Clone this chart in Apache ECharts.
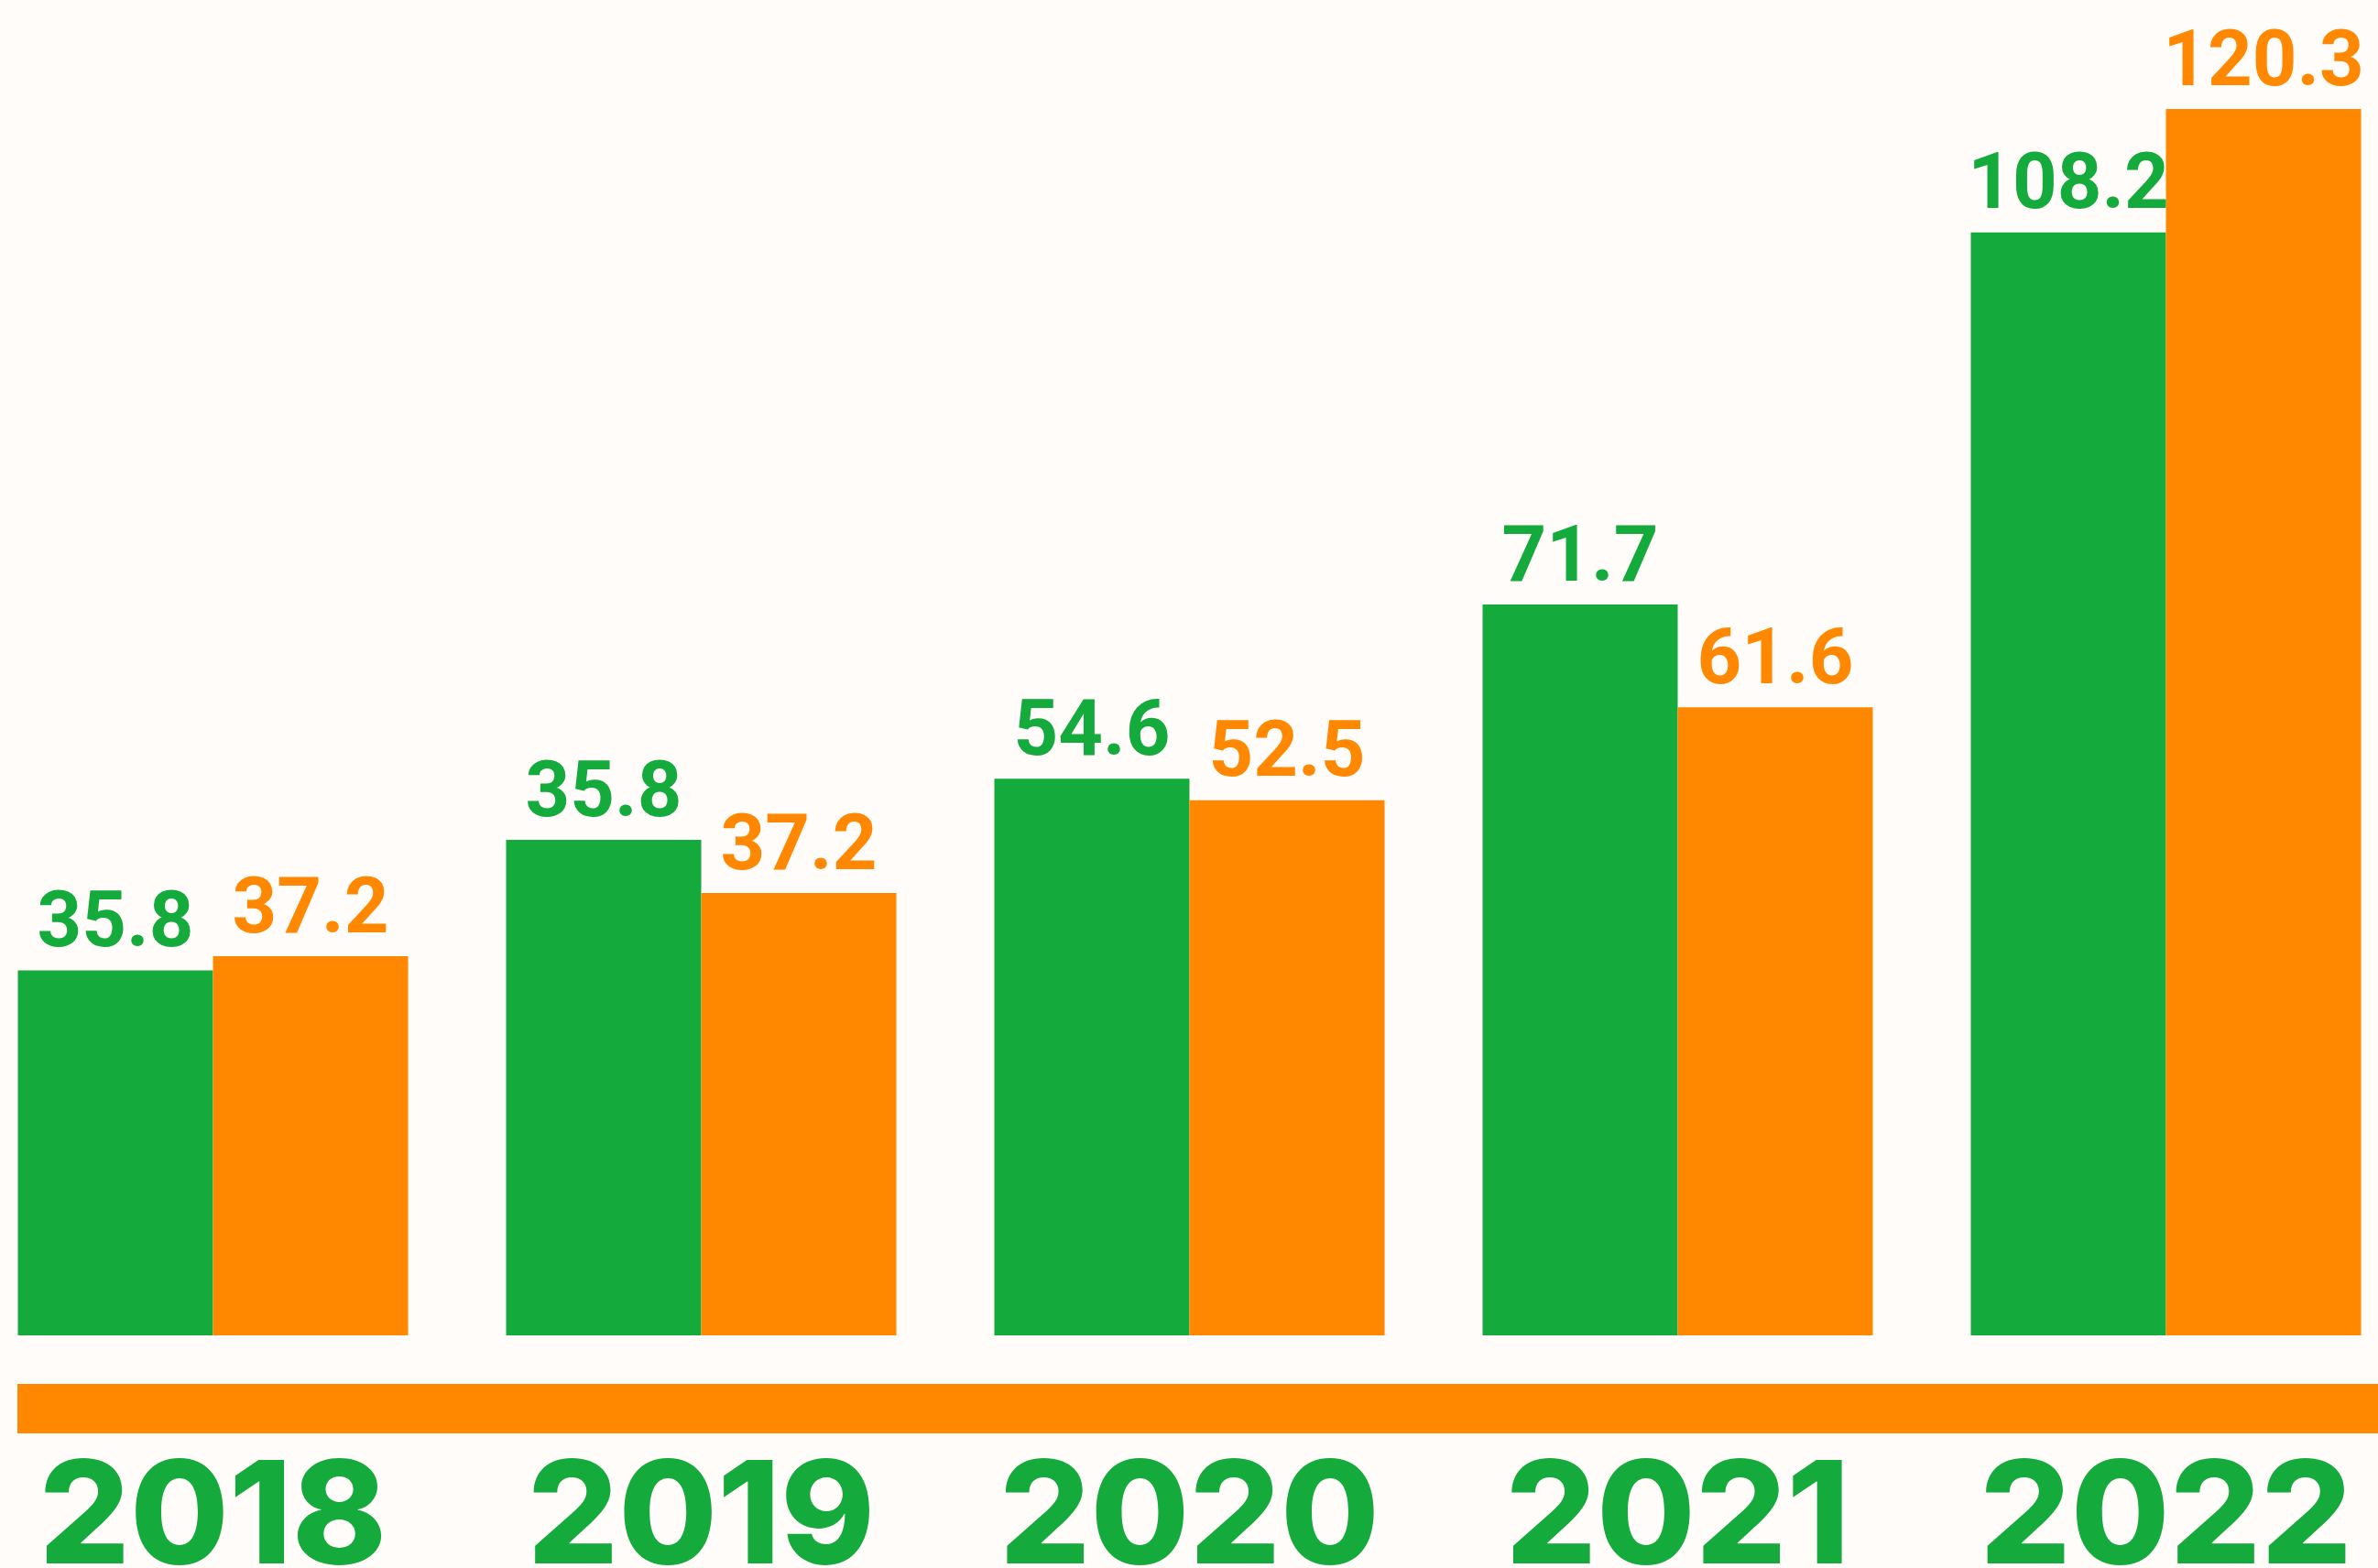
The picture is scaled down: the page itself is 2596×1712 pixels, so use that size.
<!DOCTYPE html>
<html>
<head>
<meta charset="utf-8">
<script src="https://cdn.jsdelivr.net/npm/echarts@6/dist/echarts.min.js"></script>
<style>
html,body{margin:0;padding:0;background:#FFFCF9;}
#chart{width:2596px;height:1712px;}
</style>
</head>
<body>
<div id="chart"></div>
<script>
var years = ['2018', '2019', '2020', '2021', '2022'];
// bar heights
var greenValues = [35.8, 48.6, 54.6, 71.7, 108.2];
var orangeValues = [37.2, 43.4, 52.5, 61.6, 120.3];
// labels printed above the bars (2019 repeats 2018 in the original)
var greenLabels = ['35.8', '35.8', '54.6', '71.7', '108.2'];
var orangeLabels = ['37.2', '37.2', '52.5', '61.6', '120.3'];

var GREEN = '#14AA3C';
var ORANGE = '#FF8800';

var myChart = echarts.init(document.getElementById('chart'));

function valueLabel(color, texts) {
    return {
        show: true,
        position: 'top',
        distance: 5,
        color: color,
        fontFamily: 'Roboto',
        fontWeight: 'bold',
        fontSize: 85,
        formatter: function (p) { return texts[p.dataIndex]; }
    };
}

var option = {
    backgroundColor: '#FFFCF9',
    animation: false,
    grid: {
        left: -34,
        width: 2665,
        top: 11,
        bottom: 254,
        containLabel: false,
        outerBoundsMode: 'none'
    },
    xAxis: {
        type: 'category',
        data: years,
        axisLine: {show: false},
        axisTick: {show: false},
        axisLabel: {
            interval: 0,
            margin: 124,
            color: GREEN,
            fontFamily: 'Inter',
            fontWeight: 800,
            fontSize: 156
        }
    },
    yAxis: {
        type: 'value',
        min: 0,
        max: 130,
        show: false,
        splitLine: {show: false}
    },
    graphic: [
        {
            type: 'rect',
            shape: {x: 19, y: 1511, width: 2600, height: 54},
            style: {fill: ORANGE}
        }
    ],
    series: [
        {
            name: 'green',
            type: 'bar',
            data: greenValues,
            barWidth: 213,
            barGap: '0%',
            itemStyle: {color: GREEN},
            label: valueLabel(GREEN, greenLabels)
        },
        {
            name: 'orange',
            type: 'bar',
            data: orangeValues,
            barWidth: 213,
            barGap: '0%',
            itemStyle: {color: ORANGE},
            label: valueLabel(ORANGE, orangeLabels)
        }
    ]
};
myChart.setOption(option);
window.onresize = myChart.resize;
</script>
</body>
</html>
